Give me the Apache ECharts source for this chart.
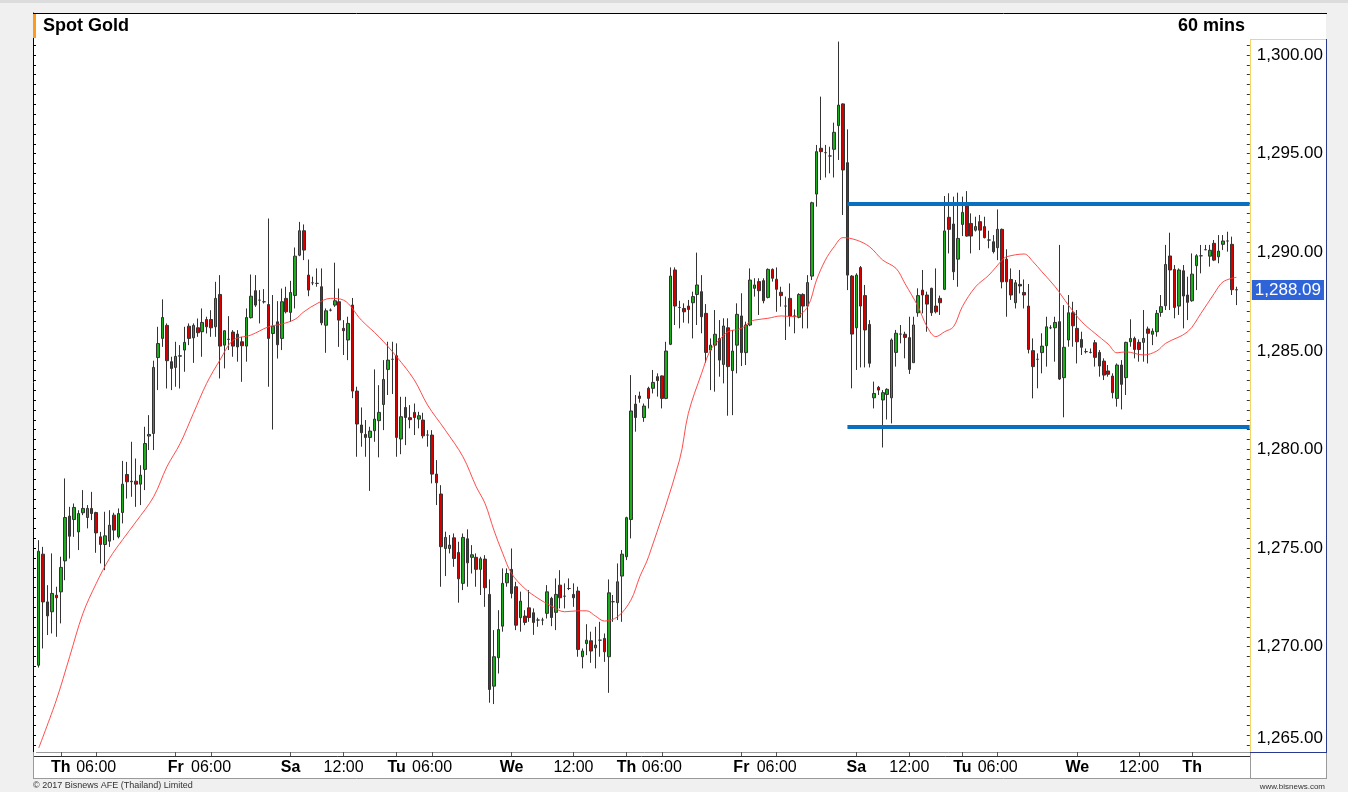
<!DOCTYPE html>
<html>
<head>
<meta charset="utf-8">
<title>Spot Gold 60 mins</title>
<script src="https://cdn.jsdelivr.net/npm/echarts@6/dist/echarts.min.js"></script>
<style>
  html, body { margin: 0; padding: 0; background: #f0f0f0; }
  #chart { width: 1348px; height: 792px; }
</style>
</head>
<body>
<div id="chart"></div>
<script>
// hourly candles: [open, close, low, high]
var candles = [
  [1269.06,1274.84,1268.94,1275.40],[1274.69,1272.27,1269.91,1275.06],[1272.27,1271.56,1270.59,1273.12],[1271.77,1272.70,1270.67,1274.73],
  [1272.61,1272.48,1270.50,1273.04],[1272.78,1274.02,1271.18,1274.56],[1274.35,1276.55,1273.37,1278.53],[1276.62,1275.60,1274.47,1277.09],
  [1276.45,1277.06,1275.57,1277.26],[1275.82,1276.75,1274.90,1276.92],[1276.79,1277.01,1276.67,1277.94],[1276.55,1277.01,1276.00,1277.18],
  [1277.01,1276.75,1276.42,1277.85],[1276.80,1275.77,1274.76,1276.84],[1275.57,1275.18,1274.22,1275.82],[1275.18,1275.62,1273.88,1276.84],
  [1275.35,1276.16,1275.06,1276.92],[1276.67,1275.91,1275.40,1276.79],[1275.57,1276.75,1275.49,1277.01],[1276.80,1278.24,1276.25,1279.42],
  [1278.73,1278.36,1277.51,1279.37],[1278.39,1278.36,1277.60,1280.39],[1278.39,1278.24,1277.09,1279.54],[1278.24,1278.70,1277.18,1279.20],
  [1278.99,1280.30,1277.94,1281.15],[1280.68,1280.76,1279.97,1281.74],[1280.81,1284.16,1279.97,1284.50],[1284.66,1285.37,1283.01,1286.22],
  [1285.63,1286.69,1285.20,1287.61],[1286.29,1284.50,1283.09,1286.39],[1284.45,1284.11,1283.01,1284.70],[1284.16,1284.72,1283.18,1285.46],
  [1284.73,1284.75,1283.09,1285.29],[1285.04,1285.43,1283.94,1286.22],[1286.25,1285.63,1285.29,1286.39],[1285.66,1286.29,1284.39,1286.39],
  [1286.17,1285.92,1285.71,1286.64],[1285.97,1286.44,1284.70,1287.15],[1286.59,1286.22,1285.88,1286.73],[1286.59,1286.17,1285.71,1287.06],
  [1286.22,1287.66,1285.71,1288.50],[1287.86,1285.24,1283.60,1288.84],[1285.29,1286.02,1284.11,1286.05],[1285.58,1285.59,1285.04,1286.76],
  [1285.95,1285.24,1284.70,1286.05],[1285.85,1285.20,1284.45,1286.05],[1285.46,1285.26,1283.43,1285.71],[1285.24,1286.69,1284.45,1287.15],
  [1286.68,1287.77,1286.64,1288.87],[1288.05,1287.32,1287.23,1288.84],[1287.57,1287.57,1286.39,1288.08],[1287.49,1287.49,1287.40,1288.13],
  [1287.35,1285.63,1283.18,1291.71],[1285.88,1286.25,1281.01,1287.83],[1286.47,1285.31,1284.61,1287.52],[1285.63,1287.49,1285.04,1288.16],
  [1287.66,1286.98,1286.90,1288.25],[1286.95,1287.96,1286.47,1288.55],[1287.81,1289.80,1287.15,1290.24],[1289.85,1291.09,1289.80,1291.54],
  [1291.09,1290.11,1289.60,1291.41],[1288.84,1288.08,1287.77,1289.63],[1288.45,1288.45,1288.33,1288.76],[1288.42,1288.42,1288.25,1289.18],
  [1288.25,1286.42,1286.30,1289.18],[1286.30,1287.03,1284.90,1287.15],[1287.06,1287.06,1287.00,1287.15],[1287.32,1287.54,1287.23,1289.47],
  [1287.49,1286.56,1285.20,1288.16],[1286.14,1286.02,1284.79,1286.56],[1285.55,1286.39,1284.53,1286.73],[1287.32,1282.96,1282.60,1287.68],
  [1282.96,1281.29,1279.63,1283.18],[1281.24,1280.85,1280.14,1282.13],[1280.76,1280.61,1279.63,1281.49],[1280.61,1280.93,1277.90,1281.15],
  [1280.95,1281.54,1280.39,1284.06],[1281.46,1281.88,1279.60,1283.26],[1282.28,1283.55,1280.98,1284.53],[1284.06,1284.53,1282.76,1285.46],
  [1284.57,1284.57,1282.81,1285.46],[1284.75,1280.61,1279.63,1285.38],[1280.53,1281.66,1279.76,1282.67],[1282.13,1281.62,1280.22,1282.67],
  [1281.61,1281.51,1281.07,1282.25],[1281.88,1281.62,1280.73,1282.33],[1281.54,1281.71,1281.07,1281.91],[1281.49,1280.69,1280.56,1281.86],
  [1280.73,1280.73,1280.14,1280.98],[1280.73,1278.75,1278.28,1280.98],[1278.75,1278.31,1277.18,1279.46],[1277.74,1275.07,1273.04,1278.19],
  [1274.98,1275.54,1273.58,1275.83],[1274.98,1275.15,1274.73,1275.66],[1275.52,1274.47,1274.05,1275.74],[1274.78,1273.44,1272.23,1275.32],
  [1273.21,1275.54,1272.87,1275.74],[1275.47,1274.25,1273.04,1275.95],[1274.53,1274.66,1273.71,1275.15],[1274.53,1273.92,1273.04,1274.73],
  [1273.92,1274.46,1272.62,1274.56],[1274.44,1272.99,1272.02,1274.64],[1272.65,1267.83,1267.16,1273.41],[1268.00,1269.49,1267.09,1270.84],
  [1269.44,1270.87,1268.64,1271.85],[1271.04,1273.21,1270.76,1273.97],[1273.24,1273.71,1273.04,1273.97],[1273.92,1272.70,1272.45,1274.98],
  [1273.04,1271.09,1270.84,1273.29],[1271.47,1272.31,1270.76,1272.79],[1271.55,1271.23,1271.09,1271.85],[1271.97,1271.48,1271.26,1272.87],
  [1271.72,1271.23,1270.60,1271.94],[1271.35,1271.35,1271.01,1271.47],[1271.35,1271.35,1271.09,1271.47],[1271.69,1272.78,1271.43,1273.12],
  [1272.45,1271.48,1271.04,1272.53],[1271.74,1272.65,1270.84,1273.46],[1273.12,1272.48,1271.94,1273.88],[1272.56,1272.56,1271.94,1273.21],
  [1272.95,1272.95,1272.87,1273.46],[1272.65,1272.48,1272.02,1273.21],[1272.82,1269.86,1269.49,1273.04],[1269.49,1269.78,1268.90,1269.91],
  [1270.16,1270.33,1269.57,1271.14],[1270.30,1269.78,1269.18,1270.76],[1269.94,1270.08,1268.90,1271.01],[1270.33,1270.33,1269.49,1271.26],
  [1270.42,1269.74,1269.23,1270.67],[1269.49,1272.73,1267.66,1273.41],[1272.28,1272.28,1271.26,1272.62],[1272.23,1273.29,1271.35,1274.22],
  [1273.58,1274.69,1271.26,1274.90],[1274.56,1276.54,1274.39,1276.59],[1276.45,1281.95,1275.49,1283.77],[1282.30,1281.62,1280.90,1282.76],
  [1282.71,1282.59,1282.37,1282.93],[1281.62,1282.20,1281.40,1282.33],[1283.10,1282.59,1282.08,1283.18],[1283.10,1283.40,1282.84,1284.03],
  [1283.69,1283.49,1282.68,1283.86],[1283.73,1282.59,1282.08,1283.75],[1282.59,1284.99,1282.55,1285.46],[1285.33,1288.79,1285.29,1289.23],
  [1289.10,1287.27,1286.31,1289.23],[1287.20,1287.20,1286.14,1287.54],[1287.15,1286.98,1286.43,1287.41],[1287.27,1287.10,1286.39,1287.58],
  [1287.44,1287.75,1285.63,1288.00],[1287.86,1288.34,1286.31,1289.98],[1288.00,1286.73,1285.89,1288.84],[1286.90,1284.92,1284.40,1287.37],
  [1285.04,1285.29,1283.01,1285.63],[1285.29,1285.84,1282.93,1287.07],[1285.63,1284.53,1283.69,1286.56],[1284.31,1286.26,1283.35,1286.65],
  [1286.17,1284.20,1281.71,1286.65],[1284.00,1284.99,1281.74,1286.06],[1285.29,1286.85,1283.86,1287.41],[1286.77,1284.91,1284.23,1287.92],
  [1284.91,1286.31,1284.28,1286.48],[1286.31,1288.59,1286.25,1289.18],[1288.17,1288.34,1287.75,1288.68],[1288.51,1288.05,1286.82,1288.68],
  [1288.56,1287.54,1287.41,1288.68],[1287.71,1289.13,1287.66,1289.18],[1289.13,1288.68,1288.51,1289.18],[1288.63,1288.12,1286.98,1289.23],
  [1287.97,1287.80,1287.24,1288.25],[1287.27,1287.27,1285.55,1287.75],[1287.66,1286.77,1286.23,1288.42],[1286.77,1286.77,1285.89,1287.10],
  [1286.70,1287.86,1286.65,1287.92],[1287.86,1287.27,1286.14,1287.92],[1287.27,1288.46,1286.14,1288.84],[1288.79,1292.51,1288.59,1292.56],
  [1292.95,1295.10,1292.31,1295.44],[1295.27,1295.10,1293.66,1297.89],[1295.05,1295.05,1293.79,1295.44],[1294.88,1294.88,1294.00,1295.35],
  [1295.22,1296.08,1293.79,1296.57],[1296.42,1297.46,1294.68,1300.68],[1297.52,1294.17,1291.89,1297.55],[1294.54,1288.84,1288.08,1296.23],
  [1288.79,1285.85,1283.10,1288.84],[1286.17,1288.84,1284.03,1288.93],[1289.22,1287.27,1284.16,1289.30],[1287.80,1286.06,1284.16,1288.34],
  [1286.34,1284.37,1284.16,1286.56],[1282.62,1282.84,1282.08,1283.44],[1283.15,1283.01,1282.76,1283.22],[1282.51,1282.88,1280.10,1283.01],
  [1282.79,1283.05,1281.52,1283.10],[1282.62,1285.55,1281.32,1285.63],[1284.92,1285.89,1284.20,1286.06],[1285.85,1285.85,1285.38,1286.31],
  [1285.84,1285.68,1284.62,1285.97],[1285.67,1284.06,1283.83,1286.73],[1284.40,1286.31,1284.40,1286.73],[1286.93,1287.80,1286.73,1288.17],
  [1288.08,1287.83,1286.90,1289.10],[1287.83,1287.37,1285.97,1288.00],[1288.17,1286.93,1286.77,1288.20],[1287.27,1286.98,1286.90,1289.18],
  [1287.66,1287.44,1286.82,1287.80],[1288.12,1291.08,1288.08,1292.85],[1291.77,1291.16,1289.94,1292.99],[1291.43,1289.01,1288.59,1292.82],
  [1289.65,1290.70,1288.25,1293.02],[1291.41,1292.02,1290.82,1292.82],[1292.34,1290.82,1290.79,1293.10],[1291.46,1290.82,1289.94,1291.97],
  [1291.12,1291.30,1291.05,1291.80],[1291.55,1291.12,1290.11,1291.89],[1291.30,1290.74,1290.70,1291.80],[1290.62,1290.62,1290.20,1291.09],
  [1290.53,1290.03,1289.94,1290.87],[1290.23,1291.16,1289.60,1292.17],[1291.16,1288.50,1288.17,1291.20],[1289.65,1288.50,1286.73,1290.15],
  [1288.62,1287.83,1287.58,1289.18],[1287.44,1288.45,1287.15,1288.59],[1288.37,1288.29,1287.91,1289.10],[1287.96,1287.83,1287.15,1288.62],
  [1287.27,1285.07,1284.87,1288.39],[1285.01,1284.20,1282.59,1285.63],[1284.57,1284.57,1283.10,1284.87],[1284.91,1285.24,1283.86,1285.89],
  [1285.26,1286.22,1284.20,1286.73],[1286.17,1286.17,1286.10,1286.30],[1286.17,1286.44,1284.45,1286.73],[1286.48,1283.57,1283.52,1290.37],
  [1283.64,1285.18,1281.63,1287.32],[1285.55,1286.93,1285.21,1287.83],[1286.93,1286.27,1285.21,1287.49],[1286.14,1285.46,1284.36,1287.07],
  [1285.58,1285.18,1284.79,1285.97],[1284.96,1284.96,1284.87,1285.12],[1284.92,1284.92,1284.87,1285.12],[1285.41,1284.67,1284.20,1285.55],
  [1284.92,1284.23,1283.69,1285.04],[1284.48,1283.77,1283.52,1284.62],[1283.98,1283.81,1283.69,1284.28],[1283.72,1282.88,1282.59,1283.86],
  [1282.59,1284.28,1282.17,1284.36],[1284.28,1283.30,1282.03,1284.53],[1283.64,1285.43,1282.76,1285.46],[1285.46,1285.63,1285.21,1286.60],
  [1285.63,1285.07,1284.62,1285.72],[1285.43,1285.07,1284.45,1285.58],[1285.43,1285.63,1284.45,1287.07],[1286.11,1285.89,1284.36,1286.23],
  [1285.84,1286.00,1285.29,1286.14],[1285.97,1286.90,1285.72,1287.07],[1286.95,1287.24,1286.73,1287.83],[1287.29,1289.38,1287.07,1290.37],
  [1289.81,1289.10,1287.07,1290.99],[1289.13,1287.20,1286.65,1289.35],[1287.27,1289.10,1286.82,1289.18],[1289.06,1287.78,1286.14,1289.35],
  [1287.83,1287.46,1286.56,1288.76],[1287.54,1288.89,1287.49,1289.94],[1289.32,1289.82,1288.08,1289.90],[1289.82,1289.82,1288.93,1290.37],
  [1290.13,1290.13,1290.10,1290.37],[1289.80,1290.10,1289.27,1290.37],[1290.45,1289.60,1289.55,1290.62],[1289.77,1290.06,1289.44,1290.87],
  [1290.40,1290.57,1290.11,1290.87],[1290.57,1290.57,1290.03,1291.04],[1290.40,1288.10,1287.83,1290.79],[1288.10,1288.09,1287.32,1288.25]
];

// moving average (red line), read at some candles: [candle index, value]
var maPoints = [
  [0,1264.86],[4,1267.3],[7,1269.49],[10,1271.68],[13,1273.2],[16,1274.47],[19,1275.43],[22,1276.33],[26,1277.6],
  [29,1279.12],[32,1280.3],[35,1281.83],[38,1283.35],[41,1284.53],[44,1285.54],[48,1285.8],[52,1286.22],[55,1286.36],
  [58,1286.6],[60,1286.98],[63,1287.4],[66,1287.66],[69,1287.57],[73,1286.56],[77,1285.71],[81,1284.7],[85,1283.52],
  [88,1282.25],[92,1280.98],[96,1279.63],[99,1278.11],[101,1277.26],[103,1275.91],[105,1274.73],[107,1273.71],[110,1272.95],
  [113,1272.45],[116,1272.06],[119,1271.77],[122,1271.82],[124,1271.82],[126,1271.55],[128,1271.3],[131,1271.52],[134,1272.36],
  [136,1273.54],[138,1274.56],[145,1279.46],[147,1281.83],[150,1283.86],[152,1285.04],[154,1285.55],[156,1285.97],[159,1286.14],
  [161,1286.48],[162,1286.56],[165,1286.65],[168,1286.77],[171,1286.73],[174,1287.24],[176,1288.59],[178,1289.6],[180,1290.28],
  [182,1290.74],[185,1290.62],[188,1290.28],[191,1289.6],[194,1289.18],[196,1288.42],[199,1287.24],[201,1286.23],[203,1285.72],
  [205,1285.97],[207,1286.22],[209,1287.24],[212,1288.25],[215,1288.84],[218,1289.6],[219,1289.77],[223,1289.91],[225,1289.52],
  [227,1289.01],[230,1288.25],[233,1287.32],[236,1286.48],[239,1285.89],[242,1285.34],[244,1284.9],[246,1284.95],[250,1284.79],
  [253,1284.99],[255,1285.38],[260,1285.97],[263,1286.9],[266,1287.91],[268,1288.5],[271,1288.73]
];

// trading range drawn on the chart
var rangeTop = 1292.44;
var rangeBottom = 1281.14;
var rangeFrom = 183;
var lastPrice = 1288.09;

// x axis labels, placed at candle index
var tickIndex = [5, 13, 31, 39, 57, 69, 81, 89, 107, 121, 133, 141, 159, 167, 185, 197, 209, 217, 235, 249, 261];
var tickText = ['Th', '06:00', 'Fr', '06:00', 'Sa', '12:00', 'Tu', '06:00', 'We', '12:00', 'Th', '06:00', 'Fr', '06:00', 'Sa', '12:00', 'Tu', '06:00', 'We', '12:00', 'Th'];

// price labels on the right
var priceLabels = [1265, 1270, 1275, 1280, 1285, 1290, 1295, 1300];

var extraSlots = 3;
var yMin = 1264.66, yMax = 1302.13;

function fmt(v) {
  return v.toFixed(2).replace(/\B(?=(\d{3})+(?!\d))/g, ',');
}

var categories = [];
for (var i = 0; i < candles.length + extraSlots; i++) categories.push(String(i));

var tickMap = {};
tickIndex.forEach(function (idx, k) { tickMap[idx] = tickText[k]; });

var minorTicks = [];
for (var t = 1265; t <= 1300.5; t += 0.5) minorTicks.push(t);

var rangeEnd = categories.length - 1;

var chart = echarts.init(document.getElementById('chart'));
chart.setOption({
  animation: false,
  backgroundColor: '#f0f0f0',
  grid: {
    left: 36.5,
    top: 13,
    width: 1215.3,
    height: 739,
    outerBoundsMode: 'none'
  },
  xAxis: {
    type: 'category',
    data: categories,
    boundaryGap: true,
    axisLine: { show: true, lineStyle: { color: '#9a9a9a', width: 1 } },
    axisTick: {
      show: true,
      alignWithLabel: true,
      length: 4,
      lineStyle: { color: '#555' },
      interval: function (index) { return tickMap[index] !== undefined; }
    },
    axisLabel: {
      show: true,
      margin: 8,
      interval: function (index) { return tickMap[index] !== undefined; },
      formatter: function (value, index) {
        var s = tickMap[index];
        if (s === undefined) return '';
        return s.indexOf(':') > 0 ? '{t|' + s + '}' : '{d|' + s + '}';
      },
      rich: {
        d: { fontFamily: 'Liberation Sans Narrow, Liberation Sans, Arial', fontWeight: 'bold', fontSize: 16, color: '#000' },
        t: { fontFamily: 'Liberation Sans Narrow, Liberation Sans, Arial', fontSize: 16, color: '#000' }
      }
    },
    splitLine: { show: false }
  },
  yAxis: [
    {
      type: 'value',
      position: 'right',
      offset: -2,
      min: yMin,
      max: yMax,
      splitLine: { show: false },
      axisLine: { show: false },
      axisTick: {
        show: true,
        inside: true,
        length: 3,
        customValues: minorTicks,
        lineStyle: { color: '#333' }
      },
      axisLabel: {
        show: true,
        margin: 7,
        customValues: priceLabels,
        fontFamily: 'Liberation Sans, Arial',
        fontSize: 17,
        color: '#000',
        formatter: function (v) {
          return v === 1265 ? '{up|' + fmt(v) + '}' : fmt(v);
        },
        rich: { up: { fontFamily: 'Liberation Sans, Arial', fontSize: 17, color: '#000', padding: [0, 0, 13, 0] } }
      }
    },
    {
      type: 'value',
      position: 'left',
      offset: 3.5,
      min: yMin,
      max: yMax,
      splitLine: { show: false },
      axisLine: { show: true, lineStyle: { color: '#000', width: 1 } },
      axisTick: { show: true, inside: true, length: 3, customValues: minorTicks, lineStyle: { color: '#000' } },
      axisLabel: { show: false }
    },
    {
      // last price tag on the right scale
      type: 'value',
      position: 'right',
      offset: -2,
      min: yMin,
      max: yMax,
      splitLine: { show: false },
      axisLine: { show: false },
      axisTick: { show: false },
      axisLabel: {
        show: true,
        margin: 2,
        customValues: [lastPrice],
        formatter: function (v) { return fmt(v); },
        fontFamily: 'Liberation Sans, Arial',
        fontSize: 17,
        color: '#fff',
        backgroundColor: '#2f63d8',
        padding: [2, 3, 1, 3]
      }
    }
  ],
  series: [
    {
      name: 'Spot Gold',
      type: 'candlestick',
      data: candles,
      barWidth: 3,
      itemStyle: {
        color: '#1aae1a',
        color0: '#d40000',
        borderColor: '#333',
        borderColor0: '#333',
        borderWidth: 1
      }
    },
    {
      name: 'MA',
      type: 'line',
      data: maPoints,
      smooth: 0.35,
      showSymbol: false,
      symbol: 'none',
      lineStyle: { color: '#ff3a3a', width: 1, opacity: 0.9 }
    },
    {
      name: 'Top',
      type: 'line',
      data: [[rangeFrom, rangeTop], [rangeEnd, rangeTop]],
      symbol: 'none',
      lineStyle: { color: '#0a6fbf', width: 4 }
    },
    {
      name: 'Bottom',
      type: 'line',
      data: [[rangeFrom, rangeBottom], [rangeEnd, rangeBottom]],
      symbol: 'none',
      lineStyle: { color: '#0a6fbf', width: 4 }
    }
  ],
  graphic: [
    { type: 'rect', z: 0, shape: { x: 33, y: 13, width: 1293, height: 765 }, style: { fill: '#fff' } },
    { type: 'rect', z: 0, shape: { x: 0, y: 0, width: 1348, height: 3 }, style: { fill: '#dcdcdc' } },
    { type: 'line', z: 100, shape: { x1: 33, y1: 13.5, x2: 1327, y2: 13.5 }, style: { stroke: '#000', lineWidth: 1 } },
    { type: 'rect', z: 100, shape: { x: 33, y: 14, width: 3, height: 24 }, style: { fill: '#ff9a1e' } },
    { type: 'text', z: 100, x: 43, y: 26, style: { text: 'Spot Gold', font: 'bold 18px "Liberation Sans", Arial', fill: '#000', verticalAlign: 'middle' } },
    { type: 'text', z: 100, x: 1245, y: 26, style: { text: '60 mins', font: 'bold 18px "Liberation Sans", Arial', fill: '#000', align: 'right', verticalAlign: 'middle' } },
    { type: 'line', z: 100, shape: { x1: 1250.5, y1: 39, x2: 1250.5, y2: 752 }, style: { stroke: '#f5d46a', lineWidth: 1 } },
    { type: 'line', z: 100, shape: { x1: 1250, y1: 39.5, x2: 1326, y2: 39.5 }, style: { stroke: '#f5d46a', lineWidth: 1 } },
    { type: 'line', z: 100, shape: { x1: 1326.5, y1: 39, x2: 1326.5, y2: 753 }, style: { stroke: '#283a8e', lineWidth: 1 } },
    { type: 'line', z: 100, shape: { x1: 1250, y1: 752.5, x2: 1327, y2: 752.5 }, style: { stroke: '#283a8e', lineWidth: 1 } },
    { type: 'line', z: 100, shape: { x1: 33, y1: 756.5, x2: 1250, y2: 756.5 }, style: { stroke: '#333', lineWidth: 1 } },
    { type: 'line', z: 100, shape: { x1: 33, y1: 778.5, x2: 1327, y2: 778.5 }, style: { stroke: '#9a9a9a', lineWidth: 1 } },
    { type: 'line', z: 100, shape: { x1: 33.5, y1: 752, x2: 33.5, y2: 779 }, style: { stroke: '#9a9a9a', lineWidth: 1 } },
    { type: 'line', z: 100, shape: { x1: 1250.5, y1: 753, x2: 1250.5, y2: 779 }, style: { stroke: '#9a9a9a', lineWidth: 1 } },
    { type: 'line', z: 100, shape: { x1: 1326.5, y1: 753, x2: 1326.5, y2: 779 }, style: { stroke: '#9a9a9a', lineWidth: 1 } },
    { type: 'text', z: 100, x: 33, y: 786, style: { text: '\u00a9 2017 Bisnews AFE (Thailand) Limited', font: '9px "Liberation Sans Narrow", "Liberation Sans", Arial', fill: '#333', verticalAlign: 'middle' } },
    { type: 'text', z: 100, x: 1325, y: 787, style: { text: 'www.bisnews.com', font: '8px "Liberation Sans Narrow", "Liberation Sans", Arial', fill: '#333', align: 'right', verticalAlign: 'middle' } }
  ]
});
</script>
</body>
</html>
